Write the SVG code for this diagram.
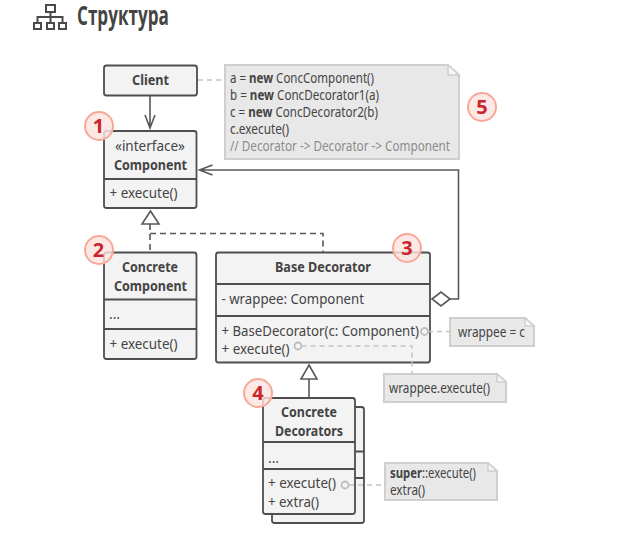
<svg xmlns="http://www.w3.org/2000/svg" width="620" height="538" viewBox="0 0 620 538">
<style>
text{font-family:"Noto Sans","Liberation Sans",sans-serif;font-size:14px;fill:#444}
.b{font-weight:700}
.box{fill:#f3f3f3;stroke:#4e4e4e;stroke-width:1.800}
.div{stroke:#4e4e4e;stroke-width:1.800;fill:none}
.note{fill:#e8e8e8;stroke:#cfcfcf;stroke-width:2}
.fold{fill:#f6f6f6;stroke:#cfcfcf;stroke-width:1.500}
.con{fill:none;stroke:#585858;stroke-width:1.600}
.dash{fill:none;stroke:#585858;stroke-width:1.600;stroke-dasharray:6 4}
.ndash{fill:none;stroke:#c4c4c4;stroke-width:1.500;stroke-dasharray:5 4}
.dot{fill:#f3f3f3;stroke:#bdbdbd;stroke-width:1.800}
.bad{fill:#fbe4e0;fill-opacity:.82;stroke:#f8a898;stroke-width:2}
.num{font-family:"Open Sans","Liberation Sans",sans-serif;font-weight:700;font-size:20px;fill:#c9252d;text-anchor:middle}
.hollow{fill:#fff;stroke:#585858;stroke-width:1.600}
.ico{fill:none;stroke:#4a4a4a;stroke-width:2}
</style>
<rect width="620" height="538" fill="#fff"/>
<g id="title">
<g class="ico"><rect x="46" y="5" width="9" height="7"/><rect x="34" y="23" width="7" height="6"/><rect x="47" y="23" width="7" height="6"/><rect x="59" y="23" width="7" height="6"/><path d="M50.500 12V23M37.500 23V17H62.500V23"/></g>
<text transform="translate(77 25) scale(.68 1)" style="font-family:'Open Sans','Liberation Sans',sans-serif;font-size:27px;font-weight:700" textLength="135" lengthAdjust="spacingAndGlyphs">Структура</text>
</g>
<g id="client"><rect class="box" x="104" y="65.500" width="93" height="30" rx="2.500"/><text class="b" x="132" y="85" textLength="37" lengthAdjust="spacingAndGlyphs">Client</text></g>
<g id="component"><rect class="box" x="104" y="131" width="92.500" height="77" rx="2.500"/><path class="div" d="M104 179H196.500"/>
<text x="115" y="150.500" textLength="70" lengthAdjust="spacingAndGlyphs">«interface»</text><text class="b" x="114" y="170" textLength="73" lengthAdjust="spacingAndGlyphs">Component</text><text x="109.500" y="198" textLength="68" lengthAdjust="spacingAndGlyphs">+ execute()</text></g>
<g id="concrete-component"><rect class="box" x="104" y="252.500" width="92.500" height="106.500" rx="2.500"/><path class="div" d="M104 299.500H196.500M104 329H196.500"/>
<text class="b" x="122" y="272" textLength="56" lengthAdjust="spacingAndGlyphs">Concrete</text><text class="b" x="114" y="291" textLength="73" lengthAdjust="spacingAndGlyphs">Component</text><text x="109" y="319" textLength="11" lengthAdjust="spacingAndGlyphs">...</text><text x="109.500" y="349" textLength="68" lengthAdjust="spacingAndGlyphs">+ execute()</text></g>
<g id="base-decorator"><rect class="box" x="216" y="252.500" width="214" height="110" rx="2.500"/><path class="div" d="M216 284H430M216 316H430"/>
<text class="b" x="275" y="272" textLength="96" lengthAdjust="spacingAndGlyphs">Base Decorator</text><text x="221.500" y="304" textLength="142.500" lengthAdjust="spacingAndGlyphs">- wrappee: Component</text><text x="221.500" y="335.500" textLength="197.500" lengthAdjust="spacingAndGlyphs">+ BaseDecorator(c: Component)</text><text x="221.500" y="354" textLength="68" lengthAdjust="spacingAndGlyphs">+ execute()</text></g>
<g id="concrete-decorators"><rect class="box" x="272" y="407" width="92" height="116" rx="2.500"/><path class="div" d="M355 451.500H364M355 478H364"/><rect class="box" x="263" y="398" width="92" height="116" rx="2.500"/><path class="div" d="M263 442H355M263 469H355"/>
<text class="b" x="281" y="417" textLength="56" lengthAdjust="spacingAndGlyphs">Concrete</text><text class="b" x="275" y="436" textLength="68" lengthAdjust="spacingAndGlyphs">Decorators</text><text x="268" y="463" textLength="11" lengthAdjust="spacingAndGlyphs">...</text><text x="268" y="488" textLength="68" lengthAdjust="spacingAndGlyphs">+ execute()</text><text x="268" y="507" textLength="51" lengthAdjust="spacingAndGlyphs">+ extra()</text></g>
<g id="note-main"><path class="note" d="M225 65H448L459 75V159H225Z"/><path class="fold" d="M448 65L459 75H448Z"/>
<text x="230" y="83" textLength="144" lengthAdjust="spacingAndGlyphs">a = <tspan class="b">new</tspan> ConcComponent()</text>
<text x="230" y="100" textLength="149" lengthAdjust="spacingAndGlyphs">b = <tspan class="b">new</tspan> ConcDecorator1(a)</text>
<text x="230" y="117" textLength="148" lengthAdjust="spacingAndGlyphs">c = <tspan class="b">new</tspan> ConcDecorator2(b)</text>
<text x="230" y="134" textLength="59" lengthAdjust="spacingAndGlyphs">c.execute()</text>
<text x="230" y="151" style="fill:#8c8c8c" textLength="220" lengthAdjust="spacingAndGlyphs">// Decorator -&gt; Decorator -&gt; Component</text></g>
<g id="note-wrappee"><path class="note" d="M450 318H525L534 326V346H450Z"/><path class="fold" d="M525 318L534 326H525Z"/><text x="458" y="337" textLength="67" lengthAdjust="spacingAndGlyphs">wrappee = c</text></g>
<g id="note-execute"><path class="note" d="M384 374H497L506 382V402H384Z"/><path class="fold" d="M497 374L506 382H497Z"/><text x="389" y="393" textLength="101" lengthAdjust="spacingAndGlyphs">wrappee.execute()</text></g>
<g id="note-super"><path class="note" d="M385 463H488L497 471V500H385Z"/><path class="fold" d="M488 463L497 471H488Z"/><text x="390" y="478" textLength="86" lengthAdjust="spacingAndGlyphs"><tspan class="b">super</tspan>::execute()</text><text x="390" y="495" textLength="35" lengthAdjust="spacingAndGlyphs">extra()</text></g>
<g id="connectors">
<path class="con" d="M150 95.500V128M145 115L150 128L155 115"/>
<path class="con" d="M450 299H458.500V170H199.500M212.500 165L199.500 170L212.500 175"/>
<path class="dash" d="M150 224V252M150 233.500H323V252"/>
<path class="con" d="M309 379V398"/>
<path class="hollow" d="M150.500 211L159 224H142Z"/>
<path class="hollow" d="M309 365L317 379H301Z"/>
<path class="hollow" d="M432 299L441 292L450 299L441 306Z"/>
<path class="ndash" d="M198 80H225"/>
<path class="ndash" d="M428 331.500H450"/>
<path class="ndash" d="M301.500 346H412V374"/>
<path class="ndash" d="M349 485H385"/>
<circle class="dot" cx="424.500" cy="331.500" r="3.500"/><circle class="dot" cx="298" cy="346" r="3.500"/><circle class="dot" cx="345" cy="485" r="3.500"/>
</g>
<g id="badge-1"><circle class="bad" cx="99" cy="126" r="14"/><text class="num" x="98.500" y="133">1</text></g>
<g id="badge-2"><circle class="bad" cx="99" cy="250" r="14"/><text class="num" x="98.500" y="257">2</text></g>
<g id="badge-3"><circle class="bad" cx="407" cy="248" r="14"/><text class="num" x="407" y="255">3</text></g>
<g id="badge-4"><circle class="bad" cx="258" cy="393" r="14"/><text class="num" x="258" y="400">4</text></g>
<g id="badge-5"><circle class="bad" cx="482" cy="107" r="14"/><text class="num" x="482" y="114">5</text></g>
</svg>
